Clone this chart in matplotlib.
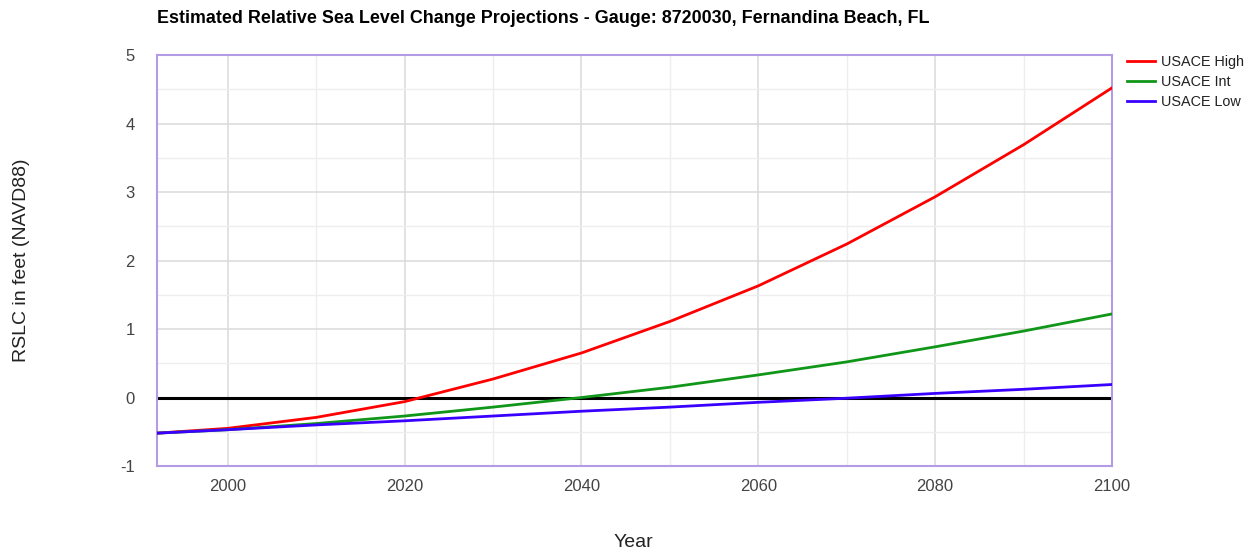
import matplotlib.pyplot as plt
from matplotlib.ticker import MultipleLocator

plt.rcParams['font.family'] = ['Liberation Sans', 'DejaVu Sans']
plt.rcParams['axes.unicode_minus'] = False

years = [1992, 2000, 2010, 2020, 2030, 2040, 2050, 2060, 2070, 2080, 2090, 2100]
usace_high = [-0.52, -0.45, -0.29, -0.06, 0.27, 0.65, 1.11, 1.63, 2.24, 2.93, 3.69, 4.52]
usace_int = [-0.52, -0.47, -0.38, -0.27, -0.14, 0.0, 0.15, 0.33, 0.52, 0.74, 0.97, 1.22]
usace_low = [-0.52, -0.47, -0.40, -0.34, -0.27, -0.20, -0.14, -0.07, -0.01, 0.06, 0.12, 0.19]

fig = plt.figure(figsize=(12.47, 5.54), dpi=100)
ax = fig.add_axes([0.1259, 0.1588, 0.7658, 0.7419])

ax.axhline(0, color='black', lw=2.2, zorder=2)
ax.plot(years, usace_high, color='#ff0000', lw=2, label='USACE High', zorder=3)
ax.plot(years, usace_int, color='#109618', lw=2, label='USACE Int', zorder=3)
ax.plot(years, usace_low, color='#3a00ff', lw=2, label='USACE Low', zorder=3)

ax.set_xlim(1992, 2100)
ax.set_ylim(-1, 5)
ax.xaxis.set_major_locator(MultipleLocator(20))
ax.xaxis.set_minor_locator(MultipleLocator(10))
ax.yaxis.set_major_locator(MultipleLocator(1))
ax.yaxis.set_minor_locator(MultipleLocator(0.5))
ax.grid(which='major', color='#dadada', lw=1.1)
ax.grid(which='minor', color='#eeeeee', lw=1)
ax.set_axisbelow(True)
ax.tick_params(which='both', length=0, labelsize=12, colors='#444444')
ax.tick_params(axis='x', pad=9)
ax.tick_params(axis='y', pad=16)
for s in ax.spines.values():
    s.set_color('#b49be6')
    s.set_linewidth(1.5)

fig.text(0.508, 0.02, 'Year', fontsize=14, ha='center', va='center', color='#222222')
fig.text(0.017, 0.531, 'RSLC in feet (NAVD88)', fontsize=14, rotation=90,
         ha='center', va='center', color='#222222')

fig.text(0.1259, 0.966, 'Estimated Relative Sea Level Change Projections - Gauge: 8720030, Fernandina Beach, FL',
         fontsize=12.9, fontweight='bold', ha='left', va='center')

fig.legend(loc='upper left', bbox_to_anchor=(0.8995, 0.911), frameon=False, fontsize=10.4,
           handlelength=1.9, handletextpad=0.45, labelspacing=0.4, borderaxespad=0,
           labelcolor='#222222')

fig.savefig('out.png', dpi=100)
